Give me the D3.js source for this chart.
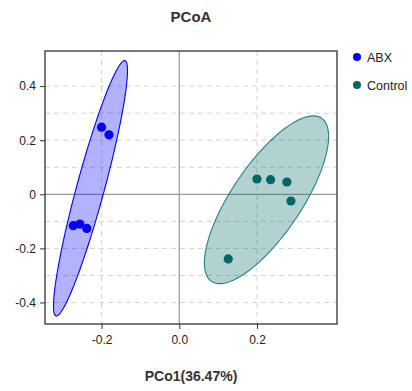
<!DOCTYPE html>
<html><head><meta charset="utf-8">
<script src="https://cdn.jsdelivr.net/npm/d3@7"></script>
<style>body{margin:0;background:#fff}svg{display:block;font-family:Arial,"Liberation Sans",sans-serif}</style>
</head><body><svg id="c" width="412" height="391"></svg>
<script>
const groups = ["ABX", "Control"];
const colors = ["#0000ff", "#006666"];
const abxX = [-0.200, -0.181, -0.273, -0.256, -0.238];
const abxY = [0.248, 0.220, -0.116, -0.110, -0.126];
const ctlX = [0.200, 0.235, 0.277, 0.2875, 0.126];
const ctlY = [0.0566, 0.054, 0.0455, -0.0248, -0.239];
// ellipse: center, major semi-axis vector, minor semi-axis vector (data units)
const abxEllipse = [[-0.2286, 0.0222], [0.0888, 0.4719], [0.0345, -0.0134]];
const ctlEllipse = [[0.2245, -0.0203], [0.1416, 0.3017], [0.0744, -0.0721]];
const xTicks = [-0.2, 0.0, 0.2];
const xTickLabels = ["-0.2", "0.0", "0.2"];
const yTicks = [-0.4, -0.2, 0, 0.2, 0.4];
const yTickLabels = ["-0.4", "-0.2", "0", "0.2", "0.4"];
const yGrid = [-0.4, -0.3, -0.2, -0.1, 0.1, 0.2, 0.3, 0.4];
const xGrid = [-0.2, 0.2];

const svg = d3.select("#c");
const L = 45, R = 337, T = 51, B = 324;
const x = d3.scaleLinear().domain([-0.3457, 0.406]).range([L, R]);
const y = d3.scaleLinear().domain([-0.4795, 0.5298]).range([B, T]);

const g = svg.append("g");
// grid
g.selectAll(".hg").data(yGrid).enter().append("line")
  .attr("x1", L).attr("x2", R).attr("y1", d => y(d)).attr("y2", d => y(d))
  .attr("stroke", "#d4d4d4").attr("stroke-dasharray", "5,4").attr("stroke-width", 1);
g.selectAll(".vg").data(xGrid).enter().append("line")
  .attr("y1", T).attr("y2", B).attr("x1", d => x(d)).attr("x2", d => x(d))
  .attr("stroke", "#d4d4d4").attr("stroke-dasharray", "5,4").attr("stroke-width", 1);
// zero lines
g.append("line").attr("x1", L).attr("x2", R).attr("y1", y(0)).attr("y2", y(0)).attr("stroke", "#999").attr("stroke-width", 1.2);
g.append("line").attr("y1", T).attr("y2", B).attr("x1", x(0)).attr("x2", x(0)).attr("stroke", "#999").attr("stroke-width", 1.2);

function ellipsePath(e) {
  const pts = d3.range(0, 361, 3).map(a => {
    const t = a * Math.PI / 180;
    const dx = e[0][0] + e[1][0] * Math.cos(t) + e[2][0] * Math.sin(t);
    const dy = e[0][1] + e[1][1] * Math.cos(t) + e[2][1] * Math.sin(t);
    return [x(dx), y(dy)];
  });
  return d3.line().curve(d3.curveLinearClosed)(pts);
}
const ells = [abxEllipse, ctlEllipse];
ells.forEach((e, i) => {
  g.append("path").attr("d", ellipsePath(e))
    .attr("fill", colors[i]).attr("fill-opacity", 0.3)
    .attr("stroke", colors[i]).attr("stroke-opacity", i === 0 ? 1 : 0.8).attr("stroke-width", 1.1);
});
const pts = [abxX.map((v, i) => [v, abxY[i], 0]), ctlX.map((v, i) => [v, ctlY[i], 1])].flat();
g.selectAll(".pt").data(pts).enter().append("circle")
  .attr("cx", d => x(d[0])).attr("cy", d => y(d[1])).attr("r", 4.6)
  .attr("fill", d => colors[d[2]]);

// border
svg.append("rect").attr("x", L).attr("y", T).attr("width", R - L).attr("height", B - T)
  .attr("fill", "none").attr("stroke", "#333").attr("stroke-width", 1.3);

// axes
const xa = svg.append("g").attr("transform", `translate(0,${B})`)
  .call(d3.axisBottom(x).tickValues(xTicks).tickFormat((d, i) => xTickLabels[i]).tickSize(5).tickPadding(6));
const ya = svg.append("g").attr("transform", `translate(${L},0)`)
  .call(d3.axisLeft(y).tickValues(yTicks).tickFormat((d, i) => yTickLabels[i]).tickSize(5).tickPadding(4));
[xa, ya].forEach(a => {
  a.select(".domain").remove();
  a.selectAll(".tick line").attr("stroke", "#333");
  a.selectAll(".tick text").attr("fill", "#222").style("font-size", "12px").style("font-family", "Arial, 'Liberation Sans', sans-serif");
});

svg.append("text").attr("x", (L + R) / 2).attr("y", 22).attr("text-anchor", "middle")
  .style("font-size", "15px").style("font-weight", "bold").attr("fill", "#333").text("PCoA");
svg.append("text").attr("x", (L + R) / 2).attr("y", 381).attr("text-anchor", "middle")
  .style("font-size", "14px").style("font-weight", "bold").attr("fill", "#333").text("PCo1(36.47%)");

// legend
const lg = svg.append("g");
groups.forEach((gname, i) => {
  lg.append("circle").attr("cx", 357).attr("cy", 57 + i * 28).attr("r", 4).attr("fill", colors[i]);
  lg.append("text").attr("x", 367).attr("y", 61.5 + i * 28).style("font-size", "12.5px").attr("fill", "#222").text(gname);
});
</script></body></html>
